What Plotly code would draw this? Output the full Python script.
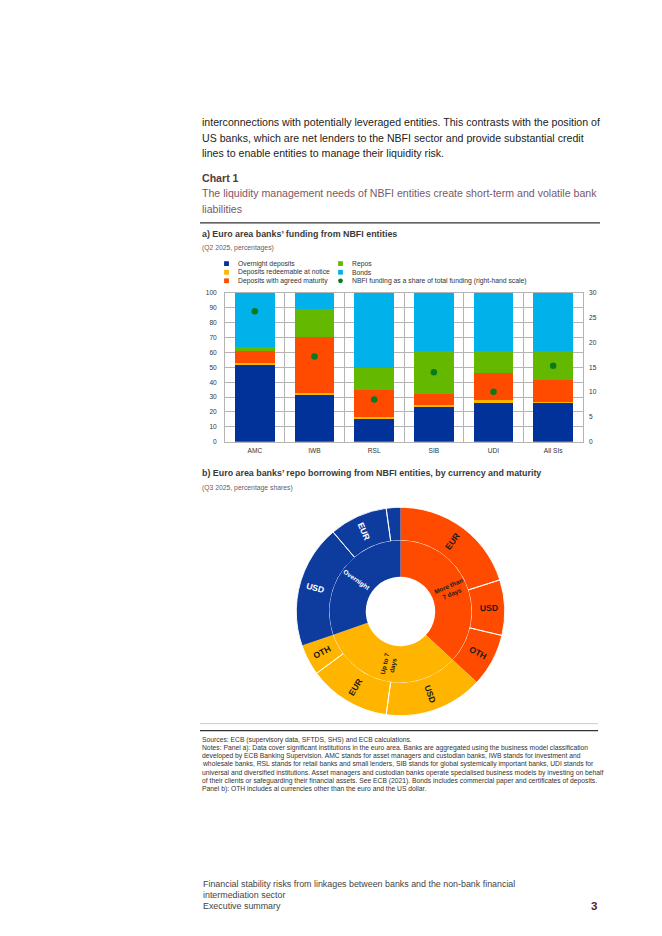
import math
import plotly.graph_objects as go

W, H = 662, 936
OFF = 8  # the page adds a default 8px body margin; compensate so positions match the window


def px(x):
    return (x - OFF) / W


def py(y):
    return 1 - (y - OFF) / H


FONT = "Liberation Sans, Arial, sans-serif"

# ---------------- Panel a) data ----------------
categories = ["AMC", "IWB", "RSL", "SIB", "UDI", "All SIs"]
overnight = [52.2, 31.8, 15.6, 23.6, 26.2, 26.2]
redeemable = [0.5, 0.9, 0.7, 1.0, 1.6, 0.7]
agreed = [8.0, 38.0, 18.8, 7.2, 18.2, 14.4]
repos = [2.9, 18.6, 14.7, 29.3, 14.9, 19.4]
bonds = [36.4, 10.7, 50.2, 38.9, 39.1, 39.3]
nbfi_share = [26.3, 17.2, 8.5, 14.0, 10.1, 15.3]

left_ticks = [0, 10, 20, 30, 40, 50, 60, 70, 80, 90, 100]
right_ticks = [0, 5, 10, 15, 20, 25, 30]

series_names = [
    "Overnight deposits",
    "Deposits redeemable at notice",
    "Deposits with agreed maturity",
    "Repos",
    "Bonds",
]
series_colors = ["#003299", "#FFB400", "#FF4B00", "#65B800", "#00B1EA"]
dot_name = "NBFI funding as a share of total funding (right-hand scale)"
dot_color = "#0A7A1E"

# ---------------- Panel b) data ----------------
maturities = ["More than 7 days", "Up to 7 days", "Overnight"]
maturity_text = ["More than<br>7 days", "Up to 7<br>days", "Overnight"]
maturity_colors = ["#FF4B00", "#FFB400", "#0E3C9E"]
maturity_text_colors = ["#1a1a1a", "#1a1a1a", "#ffffff"]
currencies = ["EUR", "USD", "OTH", "USD", "EUR", "OTH", "USD", "EUR", "OTH"]
currency_parent = [0, 0, 0, 1, 1, 1, 2, 2, 2]
currency_shares = [20.1, 8.6, 8.2, 15.3, 12.7, 4.8, 19.1, 9.0, 2.2]
currency_show_label = [True, True, True, True, True, True, True, True, False]

maturity_shares = [
    sum(v for v, p in zip(currency_shares, currency_parent) if p == i)
    for i in range(len(maturities))
]

fig = go.Figure()

# stacked bars
for name, vals, col in zip(series_names, [overnight, redeemable, agreed, repos, bonds], series_colors):
    fig.add_trace(go.Bar(
        x=categories, y=vals, name=name, marker=dict(color=col, line=dict(width=0)),
        xaxis="x", yaxis="y", showlegend=False,
    ))

fig.add_trace(go.Scatter(
    x=categories, y=nbfi_share, name=dot_name, mode="markers",
    marker=dict(color=dot_color, size=6.5), xaxis="x", yaxis="y2", showlegend=False,
))

# ---------------- donut ----------------
R_OUT, R_MID, R_IN = 105, 71.5, 35
CX, CY = 400.5, 612
outer_domain = dict(x=[px(CX - R_OUT), px(CX + R_OUT)], y=[py(CY + R_OUT), py(CY - R_OUT)])
inner_domain = dict(x=[px(CX - R_MID), px(CX + R_MID)], y=[py(CY + R_MID), py(CY - R_MID)])

outer_colors = [maturity_colors[p] for p in currency_parent]

# outer ring (currencies), no outlines
fig.add_trace(go.Pie(
    values=currency_shares,
    labels=[f"{maturities[p]} {c}" for c, p in zip(currencies, currency_parent)],
    textinfo="none", sort=False, direction="clockwise", rotation=0, hole=R_MID / R_OUT,
    marker=dict(colors=outer_colors, line=dict(width=0)),
    domain=outer_domain, showlegend=False, hoverinfo="label+value",
))

# white separators only between currencies of the same maturity:
# a transparent overlay ring whose edges sit on those internal boundaries
total = sum(currency_shares)
cum = 0.0
internal = []
for i, v in enumerate(currency_shares):
    cum += v
    nxt = (i + 1) % len(currency_shares)
    if i + 1 < len(currency_shares) and currency_parent[nxt] == currency_parent[i]:
        internal.append(cum)
sep_values = [internal[k + 1] - internal[k] for k in range(len(internal) - 1)]
sep_values.append(total - internal[-1] + internal[0])
fig.add_trace(go.Pie(
    values=sep_values, textinfo="none", sort=False, direction="clockwise",
    rotation=internal[0] / total * 360, hole=R_MID / R_OUT,
    marker=dict(colors=["rgba(0,0,0,0)"] * len(sep_values), line=dict(color="white", width=0.9)),
    domain=outer_domain, showlegend=False, hoverinfo="skip",
))

# inner ring (maturity)
fig.add_trace(go.Pie(
    values=maturity_shares, labels=maturities, textinfo="none",
    sort=False, direction="clockwise", rotation=0, hole=R_IN / R_MID,
    marker=dict(colors=maturity_colors, line=dict(width=0)),
    domain=inner_domain, showlegend=False, hoverinfo="label+value",
))

GRID = "#b4b4b4"
fig.update_layout(
    width=W, height=H, margin=dict(l=0, r=0, t=0, b=0),
    paper_bgcolor="white", plot_bgcolor="white",
    font=dict(family=FONT, color="#333333"),
    barmode="stack", bargap=0.33, showlegend=False,
    xaxis=dict(
        domain=[px(225), px(583)], anchor="y", type="category",
        tickson="boundaries", showgrid=True, gridcolor=GRID, gridwidth=0.8,
        showline=True, linecolor=GRID, linewidth=0.8, mirror=True,
        ticks="", tickfont=dict(size=6.6, color="#333333"), ticklabelstandoff=2,
        fixedrange=True,
    ),
    yaxis=dict(
        domain=[py(441), py(291)], anchor="x", range=[0, 100],
        tickvals=left_ticks, showgrid=True, gridcolor=GRID, gridwidth=0.8,
        showline=True, linecolor=GRID, linewidth=0.8, mirror=True, zeroline=False,
        ticks="", tickfont=dict(size=6.6, color="#333333"), ticklabelstandoff=6,
        fixedrange=True,
    ),
    yaxis2=dict(
        overlaying="y", side="right", anchor="x", range=[0, 30],
        tickvals=right_ticks, showgrid=False, zeroline=False, showline=False,
        ticks="", tickfont=dict(size=6.6, color="#333333"), ticklabelstandoff=5,
        fixedrange=True,
    ),
)

annotations = []
shapes = []


def txt(x, y, text, size, color="#333333", bold=False, xanchor="left", angle=0):
    annotations.append(dict(
        x=px(x), y=py(y), xref="paper", yref="paper", xanchor=xanchor, yanchor="middle",
        text=f"<b>{text}</b>" if bold else text, showarrow=False, textangle=angle,
        font=dict(family=FONT, size=size, color=color), align="center" if xanchor == "center" else "left",
    ))


def ring_labels(values, labels, colors, r, size):
    tot = sum(values)
    c = 0.0
    for v, lab, col in zip(values, labels, colors):
        mid = (c + v / 2) / tot * 360
        c += v
        if not lab:
            continue
        a = math.radians(mid)
        x = CX + r * math.sin(a)
        y = CY - r * math.cos(a)
        ang = mid - 90 if mid < 180 else mid - 270
        txt(x, y, lab, size, col, bold=True, xanchor="center", angle=ang)


ring_labels(currency_shares,
            [c if s else "" for c, s in zip(currencies, currency_show_label)],
            [maturity_text_colors[p] for p in currency_parent],
            (R_MID + R_OUT) / 2, 8.6)
ring_labels(maturity_shares, maturity_text, maturity_text_colors, (R_IN + R_MID) / 2 + 1, 6.4)

# body text
body = [
    "interconnections with potentially leveraged entities. This contrasts with the position of",
    "US banks, which are net lenders to the NBFI sector and provide substantial credit",
    "lines to enable entities to manage their liquidity risk.",
]
for i, line in enumerate(body):
    txt(200, 118.5 + i * 16, line, 10.6, "#222222")

txt(200, 175.5, "Chart 1", 10.6, "#4f3a40", bold=True)
txt(200, 190.5, "The liquidity management needs of NBFI entities create short-term and volatile bank", 10.6, "#7a5868")
txt(200, 206.5, "liabilities", 10.6, "#7a5868")
shapes.append(dict(type="line", xref="paper", yref="paper", x0=px(200), x1=px(600), y0=py(220.5), y1=py(220.5),
                   line=dict(color="#333333", width=1.2)))

txt(200, 231.5, "a) Euro area banks\u2019 funding from NBFI entities", 8.9, "#3a3a3a", bold=True)
txt(200, 246, "(Q2 2025, percentages)", 6.8, "#6a5a5e")

# legend (manual, two columns)
legend_cols = [(226.5, 235.5), (340.5, 350)]
legend_rows = [261.5, 270.2, 278.8]
legend_items = [
    (0, 0, series_names[0], series_colors[0], "sq"),
    (0, 1, series_names[1], series_colors[1], "sq"),
    (0, 2, series_names[2], series_colors[2], "sq"),
    (1, 0, series_names[3], series_colors[3], "sq"),
    (1, 1, series_names[4], series_colors[4], "sq"),
    (1, 2, dot_name, dot_color, "dot"),
]
for c, r, name, col, kind in legend_items:
    sx, tx = legend_cols[c]
    sy = legend_rows[r]
    s = 2.4
    shapes.append(dict(type="rect" if kind == "sq" else "circle", xref="paper", yref="paper",
                       x0=px(sx - s), x1=px(sx + s), y0=py(sy + s), y1=py(sy - s),
                       fillcolor=col, line=dict(width=0)))
    txt(tx, sy, name, 6.8, "#333333")

# panel b titles
txt(200, 472.5, "b) Euro area banks\u2019 repo borrowing from NBFI entities, by currency and maturity", 8.9, "#3a3a3a", bold=True)
txt(200, 488, "(Q3 2025, percentage shares)", 6.8, "#6a5a5e")

shapes.append(dict(type="line", xref="paper", yref="paper", x0=px(200), x1=px(598), y0=py(725), y1=py(725),
                   line=dict(color="#b8c0c4", width=0.8)))
shapes.append(dict(type="line", xref="paper", yref="paper", x0=px(200), x1=px(598), y0=py(732), y1=py(732),
                   line=dict(color="#333333", width=1.1)))

notes = [
    "Sources: ECB (supervisory data, SFTDS, SHS) and ECB calculations.",
    "Notes: Panel a): Data cover significant institutions in the euro area. Banks are aggregated using the business model classification",
    "developed by ECB Banking Supervision. AMC stands for asset managers and custodian banks, IWB stands for investment and",
    "wholesale banks, RSL stands for retail banks and small lenders, SIB stands for global systemically important banks, UDI stands for",
    "universal and diversified institutions. Asset managers and custodian banks operate specialised business models by investing on behalf",
    "of their clients or safeguarding their financial assets. See ECB (2021). Bonds includes commercial paper and certificates of deposits.",
    "Panel b): OTH includes al currencies other than the euro and the US dollar.",
]
for i, line in enumerate(notes):
    txt(200, 741.5 + i * 8.2, line, 6.75, "#333333")

footer = [
    "Financial stability risks from linkages between banks and the non-bank financial",
    "intermediation sector",
    "Executive summary",
]
for i, line in enumerate(footer):
    txt(201, 887 + i * 11, line, 8.9, "#444444")
txt(599, 909, "3", 11.5, "#5b2333", bold=True, xanchor="right")

fig.update_layout(annotations=annotations, shapes=shapes)
fig.write_html("out.html")
